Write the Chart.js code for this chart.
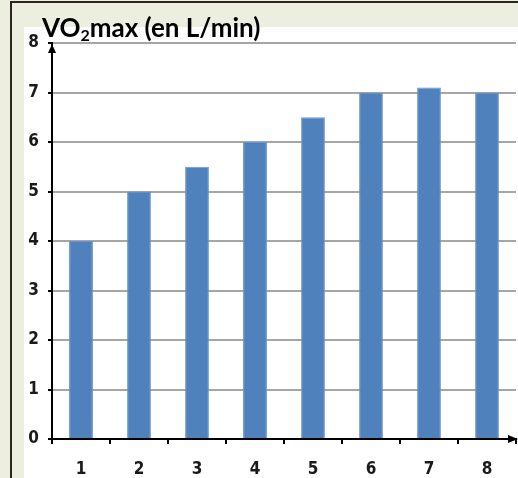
<!DOCTYPE html>
<html>
<head>
<meta charset="utf-8">
<script src="https://cdn.jsdelivr.net/npm/chart.js@4/dist/chart.umd.min.js"></script>
<style>
  html, body { margin: 0; padding: 0; background: #ecefe0; }
  canvas { display: block; }
</style>
</head>
<body>
<canvas id="vo2Chart" width="518" height="478"></canvas>
<script>
// data
const categories = ['1', '2', '3', '4', '5', '6', '7', '8']
const vo2max = [4, 5, 5.5, 6, 6.5, 7, 7.1, 7]
const yTicks = [0, 1, 2, 3, 4, 5, 6, 7, 8]

const tickFont = { family: "'Liberation Sans Narrow', 'DejaVu Sans Condensed', sans-serif", size: 17, weight: 'bold' }

// beige frame + white panel behind the chart
const framePlugin = {
    id: 'frame',
    beforeDraw(chart) {
        const ctx = chart.ctx
        ctx.save()
        ctx.fillStyle = '#ecefe0'
        ctx.fillRect(0, 0, chart.width, chart.height)
        ctx.fillStyle = '#ffffff'
        ctx.fillRect(24, 27, chart.width - 24, chart.height - 27)
        ctx.strokeStyle = '#2b2620'
        ctx.lineWidth = 2
        ctx.beginPath()
        ctx.moveTo(11, chart.height)
        ctx.lineTo(11, 2)
        ctx.lineTo(chart.width, 2)
        ctx.stroke()
        ctx.restore()
    },
    afterDraw(chart) {
        const ctx = chart.ctx
        const area = chart.chartArea
        ctx.save()
        ctx.fillStyle = '#000'
        // y axis arrow
        ctx.beginPath()
        ctx.moveTo(area.left, area.top + 1)
        ctx.lineTo(area.left - 4, area.top + 10)
        ctx.lineTo(area.left + 4, area.top + 10)
        ctx.closePath()
        ctx.fill()
        // x axis arrow
        ctx.beginPath()
        ctx.moveTo(area.right + 2, area.bottom)
        ctx.lineTo(area.right - 8, area.bottom - 4)
        ctx.lineTo(area.right - 8, area.bottom + 4)
        ctx.closePath()
        ctx.fill()
        ctx.fillRect(area.left - 4, area.bottom - 1, 4, 2)

        // axis title with subscript
        const family = "Lato, 'Open Sans', sans-serif"
        let x = 42
        const base = 37
        ctx.fillStyle = '#000'
        ctx.textBaseline = 'alphabetic'
        ctx.font = 'bold 26px ' + family
        ctx.fillText('VO', x, base)
        x += ctx.measureText('VO').width
        ctx.font = 'bold 16px ' + family
        ctx.fillText('2', x, base + 4)
        x += ctx.measureText('2').width
        ctx.font = 'bold 26px ' + family
        ctx.fillText('max (en L/min)', x, base)
        ctx.restore()
    }
}

new Chart(document.getElementById('vo2Chart').getContext('2d'), {
    type: 'bar',
    data: {
        labels: categories,
        datasets: [
            {
                data: vo2max,
                backgroundColor: '#4f81bd',
                borderColor: '#6a95c8',
                borderWidth: 1,
                categoryPercentage: 1,
                barPercentage: 0.41,
            },
        ],
    },
    options: {
        responsive: false,
        animation: false,
        devicePixelRatio: 1,
        layout: { padding: { top: 43, right: 2, left: 0, bottom: 0 } },
        plugins: {
            legend: { display: false },
            tooltip: { enabled: false },
        },
        scales: {
            y: {
                min: yTicks[0],
                max: yTicks[yTicks.length - 1],
                afterBuildTicks: (scale) => { scale.ticks = yTicks.map((v) => ({ value: v })) },
                afterFit: (scale) => { scale.width = 52 },
                ticks: { font: tickFont, color: '#1a1a1a', padding: 9 },
                grid: { color: '#a6a6a6', lineWidth: 2, tickColor: '#000', tickLength: 4 },
                border: { color: '#000', width: 2 },
            },
            x: {
                afterFit: (scale) => { scale.height = 39 },
                ticks: { font: tickFont, color: '#1a1a1a', padding: 15 },
                grid: { drawOnChartArea: false, tickColor: '#000', tickLength: 5, lineWidth: 2 },
                border: { color: '#000', width: 2 },
            },
        },
    },
    plugins: [framePlugin],
})
</script>
</body>
</html>
